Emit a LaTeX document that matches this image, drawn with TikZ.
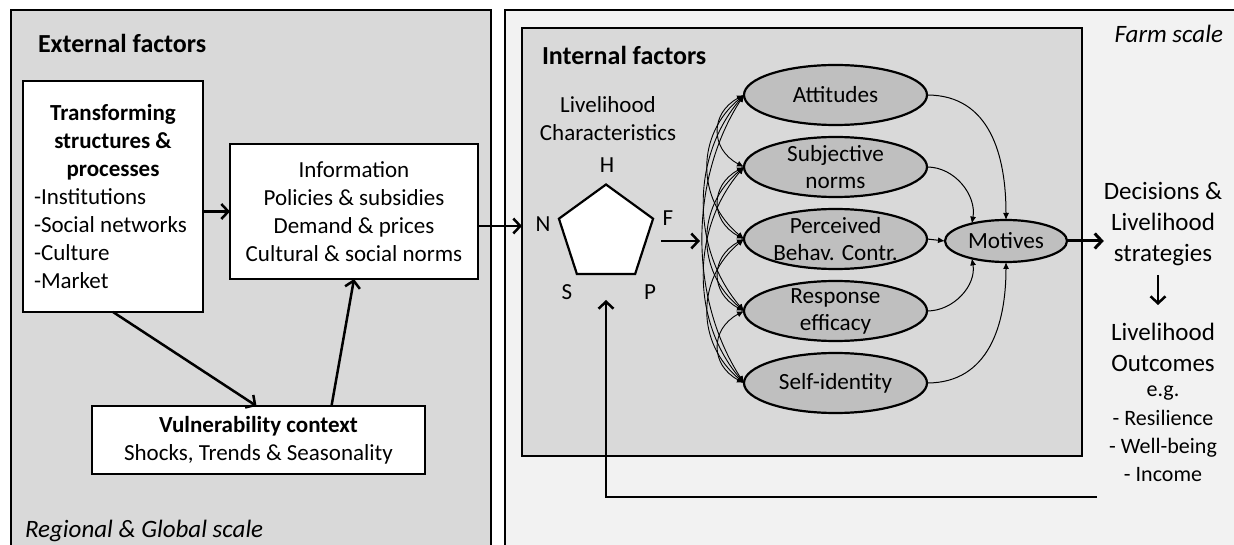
\documentclass[tikz,border=0pt]{standalone}
\usepackage{fontspec}
\setmainfont{Carlito}
\usetikzlibrary{arrows.meta,shapes.geometric}
\definecolor{boxgray}{RGB}{217,217,217}
\definecolor{lightbg}{RGB}{242,242,242}
\definecolor{ellgray}{RGB}{191,191,191}
\newcommand\myfT{\fontsize{26}{31}\selectfont\bfseries}
\newcommand\myfA{\fontsize{23}{28}\selectfont}
\newcommand\myfB{\fontsize{23.2}{27}\selectfont}
\newcommand\myfC{\fontsize{25}{31}\selectfont}
\newcommand\myfD{\fontsize{22}{28.4}\selectfont}
\newcommand\myfI{\fontsize{25}{30}\selectfont\itshape}
\newcommand\myctr[1]{\makebox[158pt][c]{\bfseries #1}}
\begin{document}
\begin{tikzpicture}[x=1pt,y=-1pt,
  box/.style={draw, line width=2.2pt, inner sep=0pt, outer sep=0pt},
  whitebox/.style={box, fill=white},
  ell/.style={ellipse, draw, line width=2.2pt, fill=ellgray, minimum width=183pt, minimum height=60pt, inner sep=0pt, outer sep=0pt},
  lbl/.style={inner sep=0pt, outer sep=0pt, align=center, font=\myfB},
  txt/.style={inner sep=0pt, outer sep=0pt, font=\myfA},
  thickarr/.style={line width=2.5pt, -{Straight Barb[length=7pt,width=15pt]}},
  thinarr/.style={line width=1pt, -{Latex[length=7pt,width=6pt]}},
  corr/.style={line width=0.9pt, {Latex[length=7pt,width=6pt]}-{Latex[length=7pt,width=6pt]}},
]
\useasboundingbox (0,0) rectangle (1234,545);
\clip (0,0) rectangle (1234,545);
\fill[white] (0,0) rectangle (1234,545);

% outer regions
\node[box, fill=boxgray, minimum width=480pt, minimum height=560pt, anchor=north west] (ext) at (11,10) {};
\node[box, fill=lightbg, minimum width=760pt, minimum height=560pt, anchor=north west] (farm) at (505,10) {};
\node[box, fill=boxgray, minimum width=560pt, minimum height=428pt, anchor=north west] (inner) at (522,28) {};

% titles
\node[txt, font=\myfT, anchor=base west] (extt) at (38,52.5) {External factors};
\node[txt, font=\myfI, anchor=base west] (reg) at (25,537) {Regional \& Global scale};
\node[txt, font=\myfT, anchor=base west] (intt) at (542,64.5) {Internal factors};
\node[txt, font=\myfI, anchor=base east] (farmt) at (1223,43) {Farm scale};

% external boxes
\node[whitebox, minimum width=180pt, minimum height=231pt, align=left, font=\myfA, anchor=north west] (trans) at (23,81)
  {\myctr{Transforming}\\\myctr{structures \&}\\\myctr{processes}\\-Institutions\\-Social networks\\-Culture\\-Market};
\node[whitebox, minimum width=248pt, minimum height=135pt, align=center, font=\myfA] (info) at (354,211.5)
  {Information\\Policies \& subsidies\\Demand \& prices\\Cultural \& social norms};
\node[whitebox, minimum width=333pt, minimum height=68pt, align=center, font=\myfA] (vuln) at (258.5,440)
  {{\bfseries Vulnerability context}\\Shocks, Trends \& Seasonality};

\draw[thickarr] (trans.east |- info.west) -- (info.west);
\draw[thickarr] (trans.south) -- ([xshift=-2pt]vuln.north);
\draw[thickarr] ([xshift=73pt]vuln.north) -- (info.south);
\draw[thickarr] (info.east |- 0,226) -- (inner.west |- 0,226);

% livelihood pentagon
\node[txt, align=center] (lch) at (608,119) {Livelihood\\Characteristics};
\node[regular polygon, regular polygon sides=5, draw, fill=white, line width=2.2pt, minimum size=99pt, inner sep=0pt, outer sep=0pt] (pent) at (606,234) {};
\node[txt] (lH) at (607,165) {H};
\node[txt] (lN) at (543,224) {N};
\node[txt] (lF) at (668,218) {F};
\node[txt] (lS) at (567,292) {S};
\node[txt] (lP) at (650,292) {P};
\coordinate (fs) at (661,241);
\coordinate (fe) at (700,241);
\draw[thickarr] (fs) -- (fe);

% ellipses
\node[ell] (att) at (835.5,95) {};
\node[ell] (sub) at (835.5,167) {};
\node[ell] (per) at (835.5,239) {};
\node[ell] (res) at (835.5,311) {};
\node[ell] (sid) at (835.5,383) {};
\node[ell, minimum width=122pt, minimum height=42pt] (mot) at (1006,241) {};
\node[lbl] at (att.center) {Attitudes};
\node[lbl] at (sub.center) {Subjective\\norms};
\node[lbl] at (per.center) {Perceived\\Behav. Contr.};
\node[lbl] at (res.center) {Response\\efficacy};
\node[lbl] at (sid.center) {Self-identity};
\node[lbl] at (mot.center) {Motives};

% correlations
\foreach \a/\b/\c/\s in {att/sub/34/18, sub/per/34/18, per/res/34/18, res/sid/34/18,
  att/per/48/40, sub/res/48/40, per/sid/48/40, att/res/53/62, sub/sid/53/62, att/sid/55/85}
  \draw[corr] (\a.west) .. controls +(-\c,\s) and +(-\c,-\s) .. (\b.west);

% to motives
\draw[thinarr] (att.east) to[out=0, in=90, looseness=1.1] (mot.north);
\draw[thinarr] (sub.east) to[out=0, in=80] (mot.153);
\draw[thinarr] (per.east) -- (mot.west);
\draw[thinarr] (res.east) to[out=0, in=-80] (mot.207);
\draw[thinarr] (sid.east) to[out=0, in=-90, looseness=1.1] (mot.south);

% outcomes
\node[txt, font=\myfC, align=center] (dec) at (1163,224) {Decisions \&\\Livelihood\\strategies};
\draw[line width=3pt, -{Straight Barb[length=7pt,width=15pt]}] (mot.east) -- (dec.west |- mot.east);
\node[txt, font=\myfC, align=center] (out) at (1163,347) {Livelihood\\Outcomes};
\node[txt, font=\myfD, align=center] (outl) at (1163,434) {e.g.\\- Resilience\\- Well-being\\- Income};
\draw[thickarr] (1158,275) -- (1158,305);
\coordinate (fb) at (1097,497);
\draw[thickarr] (fb) -| (pent.south |- 0,300);
\end{tikzpicture}
\end{document}
